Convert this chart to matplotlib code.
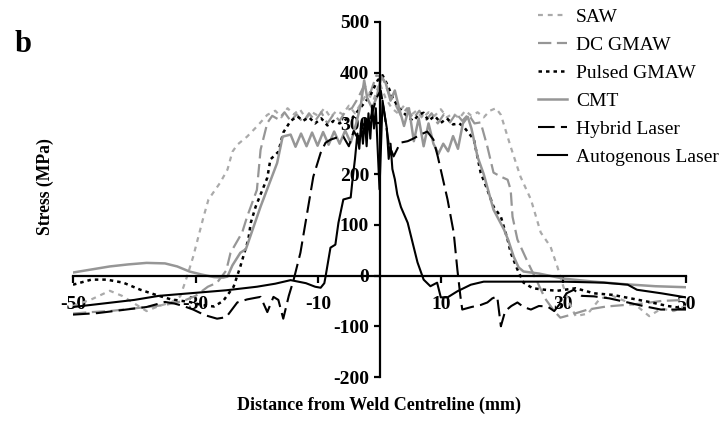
import matplotlib
matplotlib.use("Agg")
import matplotlib.pyplot as plt

# ---------------- data ----------------
saw_x = [-50, -47, -44, -42, -40, -38, -36, -34, -32.5, -31.4, -30.4, -28.7, -27.9, -26, -24.8, -24, -23.2,
         -21.6, -20, -18.3, -17, -16, -15, -14, -13, -12, -11, -10, -9, -8, -7, -6, -5, -4, -3, -2, -1, 0,
         1, 2, 3, 4, 5, 6, 7, 8, 9, 10, 11, 12, 13, 14, 15, 16, 17, 18, 19, 19.8, 21.4, 23, 24.7, 26.3,
         27.9, 29, 30, 31, 32, 34, 36, 38, 40, 42, 44, 46, 48, 50]
saw_y = [-60, -47, -30, -40, -55, -70, -60, -53, -41, -2, 37, 116, 150, 183, 209, 244, 258,
         274, 294, 317, 325, 312, 330, 318, 328, 310, 322, 315, 330, 312, 325, 318, 335, 320, 340, 360, 345, 380,
         350, 330, 320, 335, 315, 325, 310, 322, 315, 328, 312, 320, 310, 325, 315, 322, 312, 325, 330, 317, 254, 195, 150, 85,
         57, 18, -22, -55, -80, -75, -45, -40, -50, -60, -80, -65, -70, -60]

dc_x = [-50, -47, -44, -41, -38, -35, -32, -30, -28, -26.5, -25, -24.3, -22.4, -21.6, -20, -19.4, -18.3, -17.5,
        -16.5, -15.5, -14.5, -13.5, -12.5, -11.5, -10.5, -9.5, -8.5, -7.5, -6.5, -5.5, -4.5, -3.5, -2.5, -1.5,
        -0.5, 0.5, 1.5, 2.5, 3.5, 4.5, 5.5, 6.5, 7.5, 8.5, 9.5, 10.5, 11.5, 12.5, 13.5, 14.5, 15.5, 16.5, 17.6,
        18.6, 19.8, 20.9, 21.4, 21.7, 22.5, 24.2, 25.8, 27, 28.5, 29.5, 31, 34, 37, 40, 43, 46, 50]
dc_y = [-75, -72, -70, -66, -62, -58, -50, -40, -22, -14, 10, 45, 85, 116, 169, 248, 301, 315,
        308, 322, 305, 318, 302, 320, 305, 322, 300, 318, 305, 325, 330, 350, 375, 360,
        395, 390, 360, 340, 315, 330, 310, 325, 305, 320, 300, 318, 302, 320, 305, 318, 300, 302, 254,
        203, 195, 189, 169, 116, 71, 26, -14, -45, -70, -83, -78, -67, -61, -58, -55, -50, -48]

pg_x = [-50, -47, -44.5, -41.8, -39, -36.5, -34, -31, -29, -27, -25.5, -23.8, -22.7, -21.4, -21, -20.2, -18.3,
        -17.8, -16.5, -15.7, -14.5, -13.4, -12.5, -11.5, -10.5, -9.5, -8.5, -7.5, -6.5, -5.5, -4.5, -3.5, -2.5,
        -1.5, -0.3, 0.5, 1.3, 2.3, 3.2, 4.6, 5.5, 6.5, 7.2, 8, 9, 10, 11, 12, 13, 13.7, 15.4, 16.5, 17.6, 18.6,
        19.8, 20.9, 21.4, 22.5, 23.5, 25, 27, 29, 32, 35, 38, 41, 44, 47, 50]
pg_y = [-18, -8, -8, -14, -28, -38, -47, -52, -58, -61, -50, -22, 18, 71, 104, 136, 193,
        229, 244, 282, 305, 314, 305, 312, 300, 310, 296, 305, 300, 308, 310, 325, 340,
        355, 385, 395, 376, 347, 330, 313, 305, 318, 321, 305, 315, 301, 310, 298, 300, 294, 268, 203, 169, 136,
        116, 71, 45, 12, -14, -25, -28, -30, -25, -35, -38, -45, -52, -60, -65]

cmt_x = [-50, -47, -44, -41, -38, -35, -33, -31, -29, -27, -25.5, -24.8, -24, -22.7, -21.8, -21, -19.4, -16.7,
         -15.8, -14.5, -13.7, -12.8, -11.9, -11, -10.1, -9.2, -8.3, -7.4, -6.5, -5.6, -4.7, -3.8, -3, -2.5,
         -2, -1.2, -0.5, 0.3, 1, 1.8, 2.5, 3.2, 4, 4.8, 5.6, 6.4, 7.2, 8, 8.8, 9.6, 10.4, 11.2, 12, 12.8,
         13.6, 14.4, 15, 16, 17, 18.6, 20.3, 21, 21.9, 22.7, 23.5, 26, 30, 35, 40, 45, 50]
cmt_y = [6, 12, 18, 22, 25, 24, 18, 8, 2, -3, -4, -2, 20, 45, 52, 80, 136, 222,
         274, 278, 254, 280, 255, 282, 256, 283, 258, 284, 260, 286, 262, 300, 340, 385,
         350, 330, 350, 392, 380, 345, 365, 330, 295, 330, 265, 310, 255, 300, 260, 240, 260, 245, 275, 250,
         300, 313, 290, 234, 200, 130, 91, 70, 37, 16, 8, 4, -6, -12, -17, -21, -23]

hl_x = [-50, -46, -42, -38, -35, -33.5, -32, -30.4, -28.5, -26.5, -25, -23.2, -21.6, -20.3, -19.4, -18.3, -17.3,
        -16.5, -15.7, -14.8, -14, -12.9, -10.8, -9.6, -8.8, -8, -7, -5.9, -5, -4.2, -3.5, -2.8, -2, -1.2, -0.5,
        0.2, 0.8, 1.5, 2.3, 3.4, 4.6, 5.5, 6.7, 7.8, 8.8, 9.5, 11.1, 12.1, 12.7, 13.2, 13.5, 15, 16.5, 17.6,
        18.4, 19.2, 19.8, 20.5, 21.5, 22.5, 23.5, 24.7, 26, 27.4, 28.5, 29.6, 30.5, 31.7, 33, 35, 37.5, 40.5,
        43, 45.9, 48, 50]
hl_y = [-77, -74, -68, -62, -52, -55, -60, -67, -78, -85, -82, -53, -47, -44, -42, -72, -42,
        -48, -85, -40, -8, 45, 195, 242, 262, 268, 272, 274, 255, 285, 270, 300, 290, 320, 350,
        365, 320, 260, 235, 262, 265, 270, 278, 284, 268, 235, 150, 85, 12, -41, -67, -62, -58, -53,
        -45, -41, -100, -70, -60, -53, -62, -67, -60, -61, -70, -53, -35, -28, -40, -41, -45, -53,
        -60, -67, -67, -67]

al_x = [-50, -45, -40, -36, -30, -25, -20, -17, -14.5, -12, -10.5, -9.6, -9, -8.8, -8, -7.2, -6.7, -5.9, -4.7,
        -4.4, -4, -3.6, -3.3, -3.0, -2.7, -2.4, -2.1, -1.8, -1.5, -1.2, -0.9, -0.6, -0.3, 0, 0.2, 0.5, 0.8,
        1.2, 1.5, 1.8, 2.1, 2.5, 2.9, 3.5, 4.6, 5.5, 6.2, 7.2, 8.3, 9.4, 10, 11.1, 12.7, 14.9, 17, 24, 30,
        36.6, 40.5, 42, 46, 50]
al_y = [-62, -55, -48, -40, -34, -29, -22, -16, -9, -15, -22, -24, -15, -2, 55, 61, 104, 150, 154,
        189, 230, 280, 250, 300, 260, 310, 255, 320, 270, 335, 290, 330, 250, 170, 240, 345, 320,
        290, 230, 260, 210, 190, 160, 135, 104, 60, 26, -8, -21, -14, -43, -43, -31, -18, -12, -12, -12,
        -14, -18, -28, -35, -43]

labels = ["SAW", "DC GMAW", "Pulsed GMAW", "CMT", "Hybrid Laser", "Autogenous Laser"]
y_ticks = [-200, -100, 0, 100, 200, 300, 400, 500]
x_ticks = [-50, -30, -10, 10, 30, 50]

# ---------------- figure ----------------
W, H = 719, 421
fig = plt.figure(figsize=(W / 100, H / 100), dpi=100)
ax = fig.add_axes([73 / W, 1 - 377 / H, (686 - 73) / W, (377 - 22) / H])
ax.patch.set_alpha(0)

serif = ["Liberation Serif", "DejaVu Serif"]

gray_light = "#aaaaaa"
gray = "#969696"
ax.plot(saw_x, saw_y, color=gray_light, lw=1.6, dashes=(2.2, 2.2), label=labels[0])
ax.plot(dc_x, dc_y, color=gray, lw=1.6, dashes=(6, 2.5), label=labels[1])
ax.plot(pg_x, pg_y, color="black", lw=1.8, dashes=(1.4, 1.6), label=labels[2])
ax.plot(cmt_x, cmt_y, color=gray, lw=1.8, label=labels[3])
ax.plot(hl_x, hl_y, color="black", lw=1.5, dashes=(8, 3), label=labels[4])
ax.plot(al_x, al_y, color="black", lw=1.5, label=labels[5])

ax.set_xlim(-50, 50)
ax.set_ylim(-200, 500)
for s in ["top", "right"]:
    ax.spines[s].set_visible(False)
ax.spines["left"].set_position(("data", 0))
ax.spines["bottom"].set_position(("data", 0))
ax.spines["left"].set_linewidth(1.6)
ax.spines["bottom"].set_linewidth(1.6)

ax.set_yticks(y_ticks)
ax.set_yticklabels([str(v) for v in y_ticks])
ax.set_xticks(x_ticks)
ax.set_xticklabels([str(v) for v in x_ticks])
ax.tick_params(axis="y", direction="out", length=4.5, width=1.6, pad=3)
ax.tick_params(axis="x", direction="out", length=5, width=1.6, pad=10)
for t in ax.get_xticklabels() + ax.get_yticklabels():
    t.set_fontfamily(serif)
    t.set_fontweight("bold")
    t.set_fontsize(14)

fig.text(45 / W, 1 - 187 / H, "Stress (MPa)", rotation=90, ha="center", va="center",
         fontfamily=serif, fontweight="bold", fontsize=12.7)
fig.text(379 / W, 1 - 405 / H, "Distance from Weld Centreline (mm)", ha="center", va="center",
         fontfamily=serif, fontweight="bold", fontsize=13)
fig.text(23 / W, 1 - 45 / H, "b", ha="center", va="center",
         fontfamily=serif, fontweight="bold", fontsize=22)

leg = fig.legend(loc="upper left", bbox_to_anchor=(538 / W, 1 - 8 / H), frameon=False,
                 prop={"family": serif, "size": 14}, handlelength=1.5, handletextpad=0.45,
                 labelspacing=0.54, borderaxespad=0, borderpad=0)

fig.savefig("out.png", dpi=100)
